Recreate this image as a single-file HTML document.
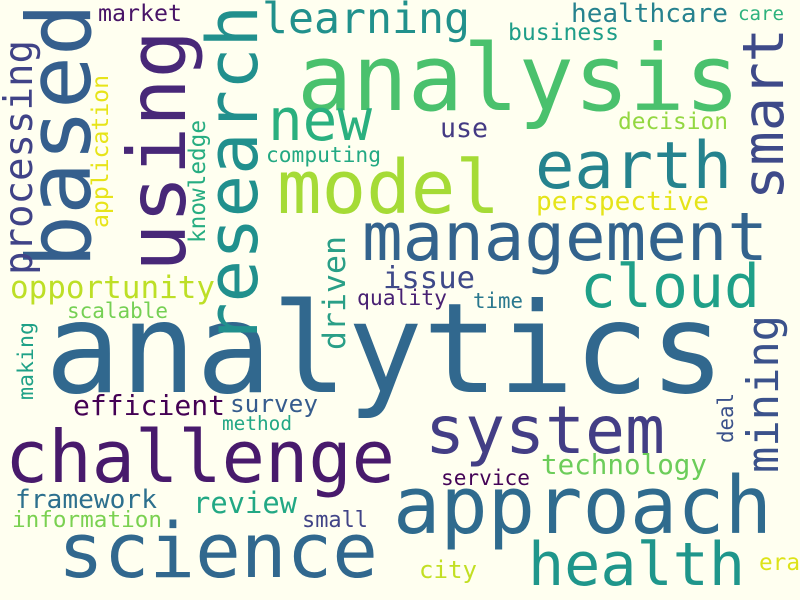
<!DOCTYPE html>
<html><head><meta charset="utf-8"><style>
html,body{margin:0;padding:0;background:#fffff0;}
svg{display:block;}
text{font-family:"DejaVu Sans Mono","Liberation Mono",monospace;}
</style></head><body>
<svg width="800" height="600" viewBox="0 0 800 600">
<rect width="800" height="600" fill="#fffff0"/>
<g id="words"></g>
</svg>
<script>
const words=["analytics","analysis","challenge","approach","science","management","system","health","earth","model","cloud","new","learning","opportunity","efficient","survey","method","framework","information","review","small","service","technology","city","era","issue","quality","time","scalable","perspective","use","decision","computing","business","healthcare","care","market","based","using","research","smart","mining","processing","application","knowledge","driven","making","deal"];
const sizes=[125,92,72,79,76,67,66,60,65,74,60,58,43,31,28,24,19.5,26,22.6,29,22,21,27.5,24,22.7,30.5,21,21,21,26,26.5,23,21,23,26,19,23,88,80,70,57,44,39,23,23,31.5,21.6,21];
const xs=[45,297,5,393,58,362,425,528,535,277,580,268,262,10,73,230,222,15,12,193,302,441,541,419,759,383,357,473,67,536,440,618,266,508,571,738,98,90,185,257,783,778,32,108,205,345,33,733];
const ys=[392,110,482,533,577,260,453,585,188,213,307,140,33,298,415,412,430,508,527,513,527,485,474,578,570,288,305,308,318,210,137,129,162,40,22,20,21,268,272,345,200,473,275,228,243,350,400,443];
const lens=[680,443,390,379,320,406,240,217,197,223,180,104,208,205,152,88,70,142,150,104,66,89,166,58,41,92,90,50,101,173,48,110,115,111,157,46,84,265,242,340,172,158,235,153,123,114,78,50];
const vertical=[0,0,0,0,0,0,0,0,0,0,0,0,0,0,0,0,0,0,0,0,0,0,0,0,0,0,0,0,0,0,0,0,0,0,0,0,0,1,1,1,1,1,1,1,1,1,1,1];
const colors=["#31688e","#4ac16d","#481a6c","#2f6b8e","#31688e","#33638d","#433e85","#1f968b","#25838e","#a5db36","#1fa088","#2ab07f","#21918c","#bddf26","#440154","#365c8d","#22a785","#2d708e","#7ad151","#22a884","#414487","#450457","#6ccd5a","#c2df23","#dde318","#3e4989","#482173","#2a788e","#75d054","#e5e419","#443a83","#93d741","#23a983","#1f9e89","#26828e","#2db27d","#481467","#355f8d","#482878","#21908d","#3e4a89","#3b528b","#404387","#e7e419","#27ad81","#2a9f87","#1fa187","#3b528b"];
const g=document.getElementById('words');
const NS="http://www.w3.org/2000/svg";
for(let i=0;i<words.length;i++){
  const t=document.createElementNS(NS,'text');
  t.setAttribute('x',xs[i]);
  t.setAttribute('y',ys[i]);
  t.setAttribute('font-size',sizes[i]);
  t.setAttribute('fill',colors[i]);
  t.setAttribute('textLength',lens[i]);
  t.setAttribute('lengthAdjust','spacingAndGlyphs');
  if(vertical[i]) t.setAttribute('transform','rotate(-90 '+xs[i]+' '+ys[i]+')');
  t.textContent=words[i];
  
  
  g.appendChild(t);
}
</script>
</body></html>
